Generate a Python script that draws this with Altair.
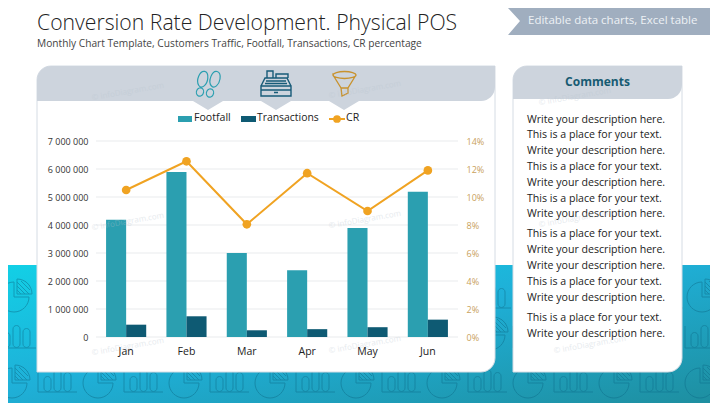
import altair as alt
import pandas as pd

months = ["Jan", "Feb", "Mar", "Apr", "May", "Jun"]
footfall = [4190000, 5890000, 3000000, 2380000, 3890000, 5190000]
transactions = [440000, 740000, 240000, 280000, 350000, 620000]
cr = [10.5, 12.55, 8.05, 11.7, 9.0, 11.9]
left_ticks = [0, 1000000, 2000000, 3000000, 4000000, 5000000, 6000000, 7000000]
right_ticks = [0, 2, 4, 6, 8, 10, 12, 14]
title = "Conversion Rate Development. Physical POS"
subtitle = "Monthly Chart Template, Customers Traffic, Footfall, Transactions, CR percentage"
ribbon = "Editable data charts, Excel table"
comment_title = "Comments"
L1 = "Write your description here."
L2 = "This is a place for your text."
comments = [L1, L2, L1, L2, L1, L2, L1, L2, L1, L1, L2, L1, L2, L1]
comment_y = [119.5, 135, 151, 167, 183, 198.5, 214, 234, 250, 266, 282, 298, 318, 334]
watermark = "© infoDiagram.com"

FONT = "Open Sans"
OX, OY = 96, 141      # page position of the plot origin
W, H = 362, 196
TEAL, NAVY, ORANGE = "#2B9FB0", "#0E5A73", "#F0A322"
HEAD = "#CDD4DD"

one = pd.DataFrame({"k": [0]})


def box(x1, y1, x2, y2, color, **kw):
    return alt.Chart(one).mark_rect(color=color, **kw).encode(
        x=alt.value(x1 - OX), x2=alt.value(x2 - OX),
        y=alt.value(y1 - OY), y2=alt.value(y2 - OY))


def text(s, x, y, size, color, align="left", **kw):
    return alt.Chart(one).mark_text(
        text=s, font=FONT, fontSize=size, color=color, align=align, baseline="middle", **kw
    ).encode(x=alt.value(x - OX), y=alt.value(y - OY))


def shape(path, fill=None, stroke=None, width=1.0, opacity=1.0):
    kw = dict(shape=path, size=4, opacity=opacity)
    if fill:
        kw.update(filled=True, fill=fill, strokeWidth=0)
    else:
        kw.update(filled=False, stroke=stroke, strokeWidth=width, fill="transparent")
    return alt.Chart(one).mark_point(**kw).encode(x=alt.value(0), y=alt.value(0))


def M(x, y):
    return f"M{x-OX:.1f},{y-OY:.1f}"


def L(x, y):
    return f"L{x-OX:.1f},{y-OY:.1f}"


def A(rx, ry, rot, large, sweep, x, y):
    return f"A{rx},{ry},{rot},{large},{sweep},{x-OX:.1f},{y-OY:.1f}"


def pie_icon(cx, cy, r=15):
    p = M(cx, cy - r) + A(r, r, 0, 1, 0, cx + r, cy) + L(cx, cy) + "Z"
    wx, wy = cx + 3, cy - 3
    p += M(wx, wy) + L(wx, wy - r) + A(r, r, 0, 0, 1, wx + r, wy) + "Z"
    for d in (4, 8, 12):
        p += M(wx, wy - d) + L(wx + d, wy)
    for d in (4, 8):
        p += M(wx + d, wy - 13) + L(wx + 13, wy - d)
    return p


def bars_icon(x, base):
    p = M(x, base - 22) + L(x, base) + L(x + 39, base)
    for dx, h in ((6, 10), (16, 17), (26, 14)):
        p += M(x + dx, base - 4) + L(x + dx, base - 2 - h)
        p += A(3.5, 3.5, 0, 0, 1, x + dx + 7, base - 2 - h)
        p += L(x + dx + 7, base - 4) + A(3.5, 3.5, 0, 0, 1, x + dx, base - 4)
    return p


pattern = ""
for k in range(-1, 10):
    pattern += pie_icon(14 + 86 * k, 297) + bars_icon(-44 + 86 * k, 308)
    pattern += bars_icon(-3 + 86 * k, 348) + pie_icon(60 + 86 * k, 335)
    pattern += pie_icon(12 + 86 * k, 383) + bars_icon(38 + 86 * k, 392)

gradient = alt.LinearGradient(
    gradient="linear", x1=0, y1=0, x2=1, y2=1,
    stops=[alt.GradientStop(color="#12D0E6", offset=0),
           alt.GradientStop(color="#1FB0D8", offset=0.45),
           alt.GradientStop(color="#1E8E9F", offset=1)])

layers = [
    alt.Chart(one).mark_rect(color=gradient).encode(
        x=alt.value(-OX), x2=alt.value(718 - OX), y=alt.value(265 - OY), y2=alt.value(404 - OY)),
    shape(pattern, stroke="#0F6F8C", width=1.0, opacity=0.5),
    # ribbon top right
    shape(M(508, 8) + L(718, 8) + L(718, 35) + L(508, 35) + L(520, 21) + "Z", fill="#A0AEBF"),
    # main panel
    box(37, 66, 495, 372, "white", stroke="#D5DCE4", strokeWidth=1,
        cornerRadiusTopLeft=14, cornerRadiusBottomRight=14),
    box(37, 66, 495, 101, HEAD, cornerRadiusTopLeft=14, cornerRadiusBottomRight=14),
    # comments panel
    box(513, 66, 682, 372, "white", stroke="#D5DCE4", strokeWidth=1,
        cornerRadiusTopLeft=14, cornerRadiusBottomRight=14),
    box(513, 66, 682, 99, HEAD, cornerRadiusTopLeft=14, cornerRadiusBottomRight=14),
    # tabs under the icons
    shape("".join(M(c - 15, 101) + L(c + 15, 101) + L(c, 110) + "Z" for c in (208, 276, 344)), fill=HEAD),
    # icons
    shape(M(198.8, 85.5) + A(4.8, 8, 15, 1, 1, 207.8, 78)
          + A(4.8, 8, 15, 0, 1, 198.8, 85.5)
          + M(197, 90) + A(3.4, 4, 15, 1, 1, 203, 94) + A(3.4, 4, 15, 0, 1, 197, 90), stroke=TEAL, width=1.2),
    shape(M(211.5, 86) + A(4.8, 8, 15, 1, 1, 220, 79)
          + A(4.8, 8, 15, 0, 1, 211.5, 86)
          + M(207, 91) + A(3.4, 4, 15, 1, 1, 213, 95) + A(3.4, 4, 15, 0, 1, 207, 91), stroke=TEAL, width=1.2),
    shape(M(261, 86) + L(291, 86) + L(291, 96) + L(261, 96) + "Z" + M(261, 90) + L(291, 90)
          + M(274, 92.5) + L(278, 92.5)
          + M(261, 86) + L(265, 78) + L(287, 78) + L(291, 86)
          + M(266, 81) + L(286, 81) + M(265, 83.5) + L(287, 83.5)
          + M(267, 78) + L(267, 71) + L(273, 71) + L(273, 78)
          + M(276, 78) + L(276, 74) + L(288, 74) + L(288, 78), stroke="#175B78", width=1.4),
    shape(M(333, 75) + A(11.5, 3.5, 0, 1, 1, 356, 75) + A(11.5, 3.5, 0, 1, 1, 333, 75)
          + L(341, 88) + L(342, 96) + L(348, 93) + L(348, 88) + L(356, 75)
          + M(341, 88) + L(348, 88), stroke="#C8922E", width=1.3),
    # gridlines
    alt.Chart(pd.DataFrame({"v": left_ticks})).mark_rule(color="#E9EBED", strokeWidth=1.2).encode(
        x=alt.value(0), x2=alt.value(W),
        y=alt.Y("v:Q", scale=alt.Scale(domain=[0, 7000000]), axis=None)),
]

bar_df = pd.DataFrame({
    "Month": months * 2,
    "Series": ["Footfall"] * 6 + ["Transactions"] * 6,
    "Value": footfall + transactions,
})
xscale = alt.Scale(domain=months, paddingInner=0.335, paddingOuter=0.167)
xaxis = alt.Axis(title=None, domain=False, ticks=False, labelAngle=0, labelFont=FONT, labelFontSize=10.5,
                 labelColor="#222222", labelPadding=9, grid=False, zindex=1)

bars = alt.Chart(bar_df).mark_bar().encode(
    x=alt.X("Month:N", scale=xscale, sort=months, axis=xaxis),
    xOffset=alt.XOffset("Series:N", sort=["Footfall", "Transactions"]),
    y=alt.Y("Value:Q", scale=alt.Scale(domain=[0, 7000000]),
            axis=alt.Axis(title=None, domain=False, ticks=False, grid=False, values=left_ticks, orient="left",
                          labelFont=FONT, labelFontSize=9, labelColor="#333333", labelPadding=8, zindex=1,
                          labelExpr="replace(format(datum.value, ','), /,/g, ' ')")),
    color=alt.Color("Series:N", scale=alt.Scale(domain=["Footfall", "Transactions"], range=[TEAL, NAVY]), legend=None),
)

line_df = pd.DataFrame({"Month": months, "CR": cr})
line = alt.Chart(line_df).mark_line(
    color=ORANGE, strokeWidth=2,
    point=alt.OverlayMarkDef(color=ORANGE, size=75, filled=True, opacity=1)
).encode(
    x=alt.X("Month:N", scale=xscale, sort=months, axis=xaxis),
    y=alt.Y("CR:Q", scale=alt.Scale(domain=[0, 14]),
            axis=alt.Axis(title=None, domain=False, ticks=False, grid=False, values=right_ticks, orient="right",
                          labelFont=FONT, labelFontSize=9, labelColor="#C9A25C", labelPadding=8, zindex=1,
                          labelExpr="datum.value + '%'")),
)

layers += [bars, line]

# legend
layers += [
    box(178, 116, 192, 122, TEAL),
    text("Footfall", 194, 118, 10.6, "#222222"),
    box(241, 116, 256, 122, NAVY),
    text("Transactions", 257, 118, 10.4, "#222222"),
    shape(M(329, 119) + L(345, 119), stroke=ORANGE, width=2),
    alt.Chart(one).mark_point(filled=True, color=ORANGE, size=60, opacity=1).encode(
        x=alt.value(337 - OX), y=alt.value(119 - OY)),
    text("CR", 346, 118, 10.6, "#222222"),
]

# headings
layers += [
    text(title, 37, 24, 21.2, "#222222", fontWeight=300),
    text(subtitle, 37, 43.5, 10.2, "#444444"),
    text(ribbon, 528, 21, 11.5, "#EDF1F5"),
    text(comment_title, 597.5, 82, 12, "#175B72", align="center", fontWeight="bold"),
]
layers += [text(s, 527, y, 10.6, "#222222") for s, y in zip(comments, comment_y)]
for wx, wy in [(128, 92), (365, 90), (128, 222), (365, 220), (128, 347), (365, 345),
               (575, 97), (575, 219), (590, 345)]:
    layers.append(text(watermark, wx, wy, 8, "#B8C4CF", align="center", angle=350, opacity=0.35))

chart = alt.layer(*layers).resolve_scale(y="independent", color="independent").properties(
    width=W, height=H,
    padding={"left": OX - 8, "top": OY - 8, "right": 702 + 8 - OX - W, "bottom": 395 + 8 - OY - H},
    autosize=alt.AutoSizeParams(type="none"),
    background="white",
).configure_view(stroke=None)

chart.save("out.html", embed_options={"renderer": "svg", "actions": False})
